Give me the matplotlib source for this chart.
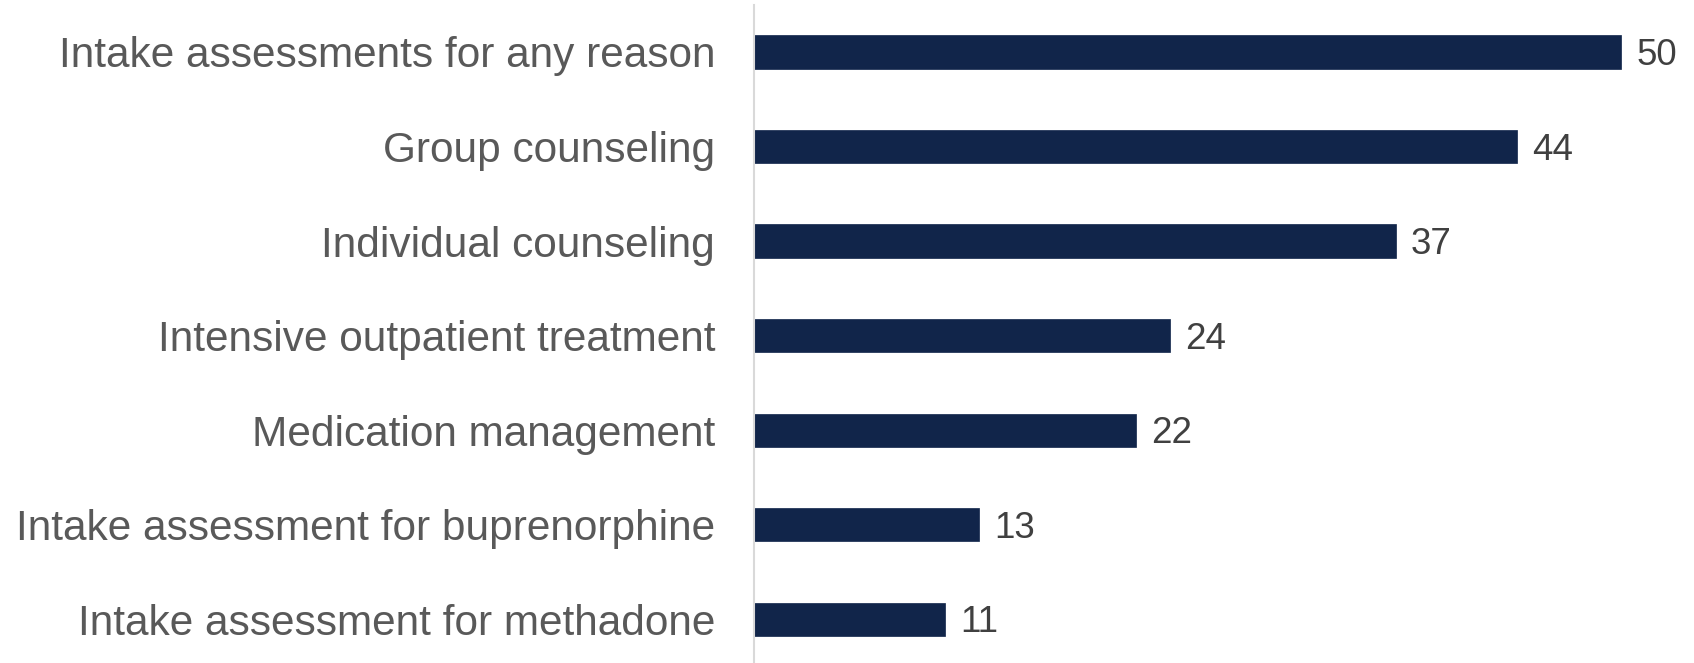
import matplotlib
matplotlib.use("Agg")
import matplotlib.pyplot as plt

categories = [
    "Intake assessments for any reason",
    "Group counseling",
    "Individual counseling",
    "Intensive outpatient treatment",
    "Medication management",
    "Intake assessment for buprenorphine",
    "Intake assessment for methadone",
]
values = [50, 44, 37, 24, 22, 13, 11]

plt.rcParams['font.family'] = ['Liberation Sans', 'DejaVu Sans']

W, H = 1694, 663
fig = plt.figure(figsize=(W / 100, H / 100), dpi=100)
left = 754 / W
top_px, bot_px = 4.7, 666.6
ax = fig.add_axes([left, 1 - bot_px / H, 1 - left, (bot_px - top_px) / H])

ypos = list(range(len(categories)))
ax.barh(ypos, values, height=0.352, color="#11254A", edgecolor="#11254A", linewidth=0.5)
ax.set_ylim(len(categories) - 0.5, -0.5)
ax.set_xlim(0, 54.2)
ax.set_yticks(ypos)
ax.set_yticklabels(categories, fontsize=30.5, color="#595959")
ax.tick_params(axis="y", length=0, pad=28)
ax.set_xticks([])
for s in ["top", "right", "bottom"]:
    ax.spines[s].set_visible(False)
ax.spines["left"].set_color("#D9D9D9")
ax.spines["left"].set_linewidth(1.5)

for y, v in zip(ypos, values):
    ax.annotate(str(v), xy=(v, y), xytext=(11, -9.4), textcoords="offset points",
                va="baseline", ha="left", fontsize=26.5, color="#404040")

fig.savefig("out.png", dpi=100)
